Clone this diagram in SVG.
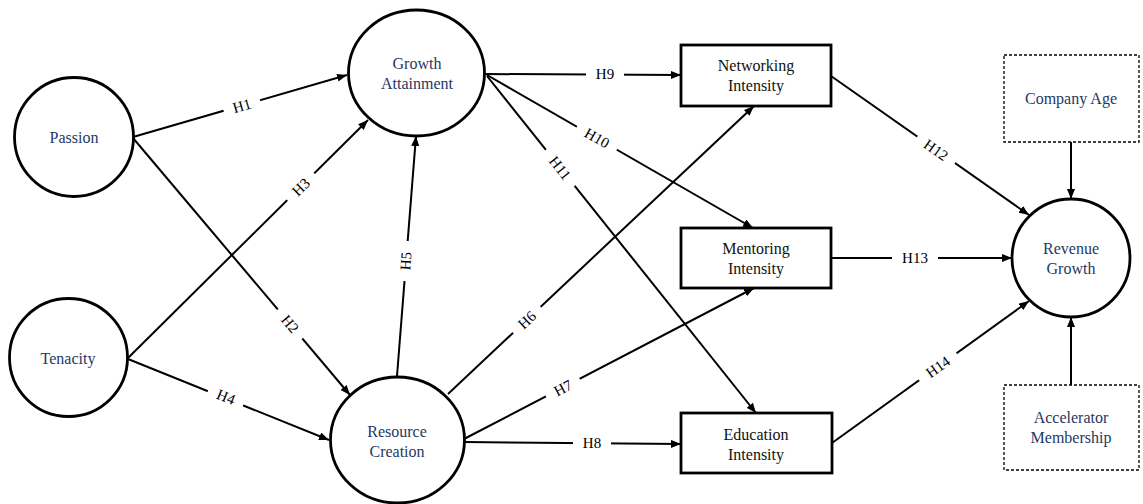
<svg xmlns="http://www.w3.org/2000/svg" width="1143" height="504" viewBox="0 0 1143 504" font-family="'Liberation Serif', 'Times New Roman', Times, serif">
<style>
.line{stroke:#000;stroke-width:2;fill:none;marker-end:url(#arr)}
.node{fill:#fff;stroke:#000;stroke-width:2.8}
.dash{fill:#fff;stroke:#000;stroke-width:1.3;stroke-dasharray:3 2}
text{font-family:'Liberation Serif','Times New Roman',Times,serif}
.lt{font-size:16px;text-anchor:middle}
.navy{fill:#1f3864}
.blk{fill:#111}
.hl{font-size:15px;text-anchor:middle;fill:#000}
.bg{fill:#fff}
</style>
<defs>
<marker id="arr" markerUnits="userSpaceOnUse" markerWidth="10" markerHeight="8" refX="10" refY="4" orient="auto">
<path d="M0,0 L10,4 L0,8 z" fill="#000"/>
</marker>
</defs>
<rect width="1143" height="504" fill="#fff"/>
<g id="connectors">
<line class="line" x1="133" y1="137" x2="347" y2="75"/>
<line class="line" x1="133" y1="138" x2="350" y2="395"/>
<line class="line" x1="128" y1="358" x2="368" y2="120"/>
<line class="line" x1="128" y1="359" x2="329" y2="440"/>
<line class="line" x1="397" y1="376" x2="416" y2="136"/>
<line class="line" x1="448" y1="394" x2="754" y2="106"/>
<line class="line" x1="464" y1="439" x2="754" y2="288"/>
<line class="line" x1="464" y1="442" x2="681" y2="444"/>
<line class="line" x1="484" y1="74" x2="681" y2="75"/>
<line class="line" x1="487" y1="75" x2="753" y2="228"/>
<line class="line" x1="487" y1="76" x2="756" y2="413"/>
<line class="line" x1="831" y1="76" x2="1029" y2="215"/>
<line class="line" x1="831" y1="258" x2="1012" y2="258"/>
<line class="line" x1="832" y1="443" x2="1029" y2="301"/>
<line class="line" x1="1071" y1="142" x2="1071" y2="199"/>
<line class="line" x1="1071" y1="385" x2="1071" y2="317"/>
<g transform="translate(242,106) rotate(-16.2)"><rect class="bg" x="-19" y="-8" width="38" height="16"/><text class="hl" dy="5">H1</text></g>
<g transform="translate(290,324) rotate(49.8)"><rect class="bg" x="-19" y="-8" width="38" height="16"/><text class="hl" dy="5">H2</text></g>
<g transform="translate(301,187) rotate(-44.8)"><rect class="bg" x="-19" y="-8" width="38" height="16"/><text class="hl" dy="5">H3</text></g>
<g transform="translate(226,397) rotate(22)"><rect class="bg" x="-19" y="-8" width="38" height="16"/><text class="hl" dy="5">H4</text></g>
<g transform="translate(406,261) rotate(-86)"><rect class="bg" x="-20" y="-8" width="40" height="16"/><text class="hl" dy="5">H5</text></g>
<g transform="translate(527,320) rotate(-43.3)"><rect class="bg" x="-19" y="-8" width="38" height="16"/><text class="hl" dy="5">H6</text></g>
<g transform="translate(563,388) rotate(-27.6)"><rect class="bg" x="-19" y="-8" width="38" height="16"/><text class="hl" dy="5">H7</text></g>
<g transform="translate(592,443)"><rect class="bg" x="-19" y="-8" width="38" height="16"/><text class="hl" dy="5">H8</text></g>
<g transform="translate(605,74)"><rect class="bg" x="-19" y="-8" width="38" height="16"/><text class="hl" dy="5">H9</text></g>
<g transform="translate(597,138) rotate(29.9)"><rect class="bg" x="-23" y="-8" width="46" height="16"/><text class="hl" dy="5">H10</text></g>
<g transform="translate(560,168) rotate(51.5)"><rect class="bg" x="-23" y="-8" width="46" height="16"/><text class="hl" dy="5">H11</text></g>
<g transform="translate(936,150) rotate(35.1)"><rect class="bg" x="-23" y="-8" width="46" height="16"/><text class="hl" dy="5">H12</text></g>
<g transform="translate(915,258)"><rect class="bg" x="-23" y="-8" width="46" height="16"/><text class="hl" dy="5">H13</text></g>
<g transform="translate(938,367) rotate(-35.8)"><rect class="bg" x="-23" y="-8" width="46" height="16"/><text class="hl" dy="5">H14</text></g>
</g>
<g id="passion"><circle class="node" cx="74" cy="137" r="59.5"/><text class="lt navy" x="74" y="143">Passion</text></g>
<g id="tenacity"><circle class="node" cx="68.5" cy="357.5" r="59"/><text class="lt navy" x="68" y="364">Tenacity</text></g>
<g id="growth-attainment"><ellipse class="node" cx="416.5" cy="73" rx="68" ry="63"/><text class="lt navy" x="417" y="69">Growth</text><text class="lt navy" x="417" y="89">Attainment</text></g>
<g id="resource-creation"><ellipse class="node" cx="397.5" cy="440" rx="67" ry="63"/><text class="lt navy" x="397" y="437">Resource</text><text class="lt navy" x="397" y="457">Creation</text></g>
<g id="networking-intensity"><rect class="node" x="681" y="45" width="150" height="61"/><text class="lt blk" x="756" y="71">Networking</text><text class="lt blk" x="756" y="91">Intensity</text></g>
<g id="mentoring-intensity"><rect class="node" x="681" y="228" width="150" height="60"/><text class="lt blk" x="756" y="254">Mentoring</text><text class="lt blk" x="756" y="274">Intensity</text></g>
<g id="education-intensity"><rect class="node" x="681" y="413" width="151" height="60"/><text class="lt blk" x="756" y="440">Education</text><text class="lt blk" x="756" y="460">Intensity</text></g>
<g id="revenue-growth"><circle class="node" cx="1071" cy="258" r="59"/><text class="lt navy" x="1071" y="254">Revenue</text><text class="lt navy" x="1071" y="274">Growth</text></g>
<g id="company-age"><rect class="dash" x="1004" y="55" width="135" height="87"/><text class="lt navy" x="1071" y="104">Company Age</text></g>
<g id="accelerator-membership"><rect class="dash" x="1004" y="385" width="135" height="85"/><text class="lt navy" x="1071" y="423">Accelerator</text><text class="lt navy" x="1071" y="443">Membership</text></g>
</svg>
